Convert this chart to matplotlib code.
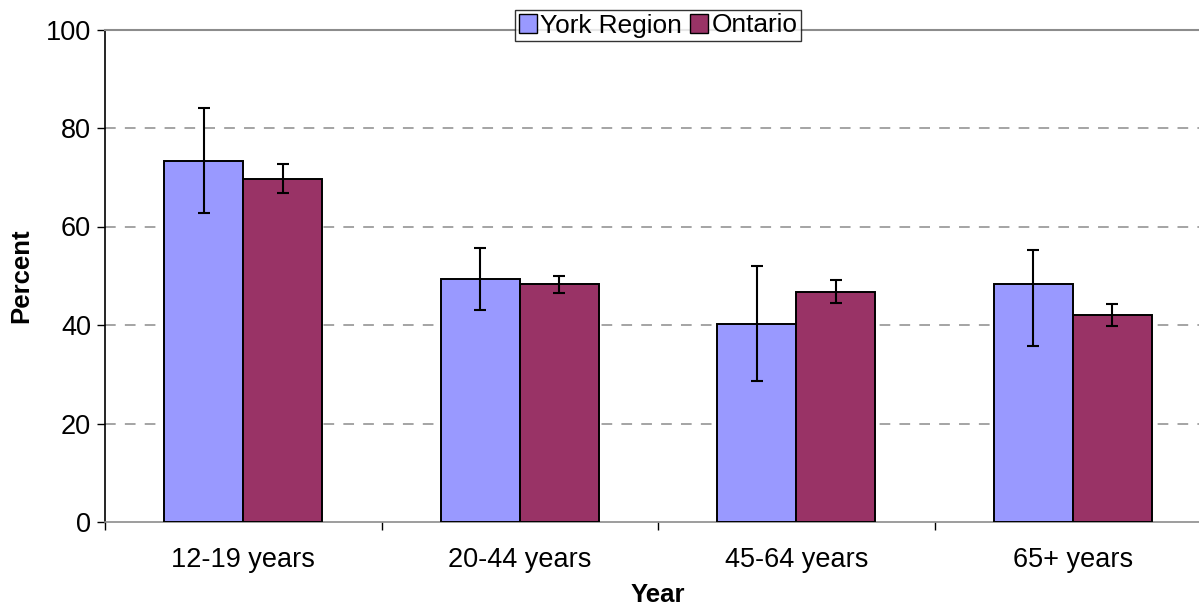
import matplotlib
matplotlib.use("Agg")
import matplotlib.pyplot as plt
import numpy as np
from matplotlib.patches import Patch

categories = ["12-19 years", "20-44 years", "45-64 years", "65+ years"]
york = [73.4, 49.3, 40.3, 48.4]
york_hi = [84.1, 55.6, 52.0, 55.2]
york_lo = [62.7, 43.0, 28.7, 35.7]
ontario = [69.7, 48.3, 46.8, 42.1]
ontario_hi = [72.7, 50.0, 49.1, 44.3]
ontario_lo = [66.9, 46.5, 44.5, 39.8]

plt.rcParams['font.family'] = ['Liberation Sans', 'DejaVu Sans']
FS = 19.5

fig = plt.figure(figsize=(11.99, 6.10), dpi=100)
ax = fig.add_axes([105/1199, 1 - 522/610, 1106/1199, 492.5/610])

x = np.arange(len(categories))
w = 0.286
york_c = "#9999ff"
ont_c = "#993366"

yerr_y = [np.array(york) - np.array(york_lo), np.array(york_hi) - np.array(york)]
yerr_o = [np.array(ontario) - np.array(ontario_lo), np.array(ontario_hi) - np.array(ontario)]

ax.bar(x - w/2, york, w, color=york_c, edgecolor="black", linewidth=1.4, zorder=3)
ax.bar(x + w/2, ontario, w, color=ont_c, edgecolor="black", linewidth=1.4, zorder=3)
ax.errorbar(x - w/2, york, yerr=yerr_y, fmt="none", ecolor="black", elinewidth=1.5,
            capsize=4.5, capthick=1.5, zorder=4)
ax.errorbar(x + w/2, ontario, yerr=yerr_o, fmt="none", ecolor="black", elinewidth=1.5,
            capsize=4.5, capthick=1.5, zorder=4)

ax.set_xlim(-0.5, len(categories) - 0.5)
ax.set_ylim(0, 100)
ax.set_yticks([0, 20, 40, 60, 80, 100])
ax.set_xticks(x)
ax.set_xticklabels(categories, fontsize=FS)
ax.tick_params(axis='x', length=0, pad=18)
ax.set_xticks(np.arange(-0.5, len(categories)), minor=True)
ax.tick_params(axis='x', which='minor', length=6, width=1, color='black')
ax.tick_params(axis='y', labelsize=FS, length=6, width=1, pad=4)

for v in [20, 40, 60, 80]:
    ax.axhline(v, color="#8c8c8c", linewidth=1.1, linestyle=(0, (7, 6)), zorder=1)

ax.spines['left'].set_color('black')
ax.spines['left'].set_linewidth(1.2)
ax.spines['bottom'].set_color('#8c8c8c')
ax.spines['bottom'].set_linewidth(1.2)
ax.spines['top'].set_color('#8c8c8c')
ax.spines['top'].set_linewidth(1.5)
ax.spines['right'].set_visible(False)

ax.set_ylabel("Percent", fontsize=FS * 0.95, fontweight="bold", labelpad=9)
ax.set_xlabel("Year", fontsize=FS * 0.95, fontweight="bold", labelpad=7)

handles = [Patch(facecolor=york_c, edgecolor="black", label="York Region"),
           Patch(facecolor=ont_c, edgecolor="black", label="Ontario")]
leg = fig.legend(handles=handles, loc="center", bbox_to_anchor=(658/1199, 1 - 25.5/610),
                 ncol=2, fontsize=FS * 0.97, frameon=True, fancybox=False, handlelength=0.7,
                 handleheight=0.7, handletextpad=0.12, columnspacing=0.3,
                 borderpad=0.15, borderaxespad=0)
leg.get_frame().set_edgecolor("black")
leg.get_frame().set_linewidth(1.0)

fig.savefig("out.png", dpi=100)
